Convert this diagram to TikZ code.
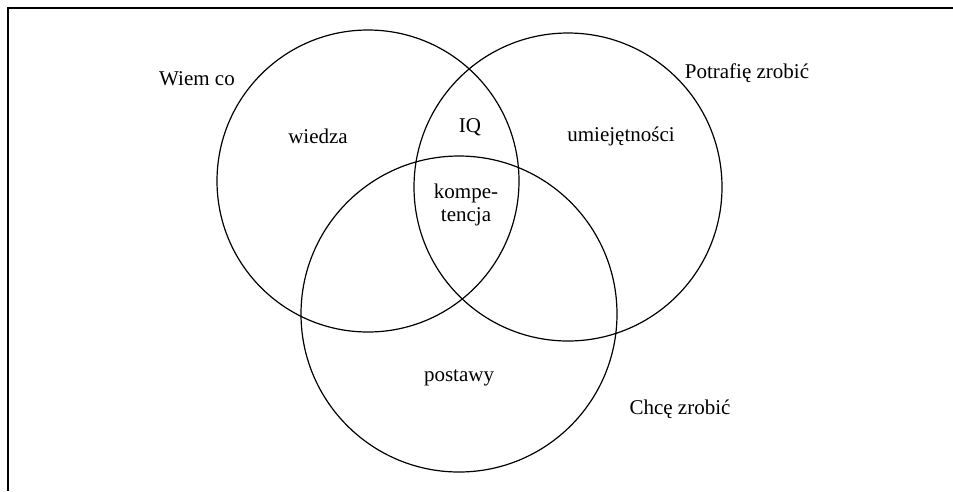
\documentclass[tikz,border=0pt]{standalone}
\usepackage{fontspec}
\setmainfont{Liberation Serif}
\begin{document}
\begin{tikzpicture}[x=1pt,y=-1pt,
  ring/.style={circle, draw, line width=1.2pt, inner sep=0pt},
  lbl/.style={font=\fontsize{21}{23}\selectfont, inner sep=0pt, align=center}]
\useasboundingbox (0,0) rectangle (953,491);
% open frame: top and left edges only
\draw[line width=1.6pt] (953,8) -- (8,8) -- (8,491);
% the three overlapping sets
\node[ring, minimum size=302pt] (know) at (368,181) {};
\node[ring, minimum size=308pt] (skill) at (568,187) {};
\node[ring, minimum size=316pt] (will) at (459,314) {};
% set captions
\node[lbl] (wiem) at (197,79) {Wiem co};
\node[lbl] (potrafie) at (747,73) {Potrafię zrobić};
\node[lbl] (chce) at (680,409) {Chcę zrobić};
% region labels
\node[lbl] (wiedza) at (318,136) {wiedza};
\node[lbl] (iq) at (470,127) {IQ};
\node[lbl] (umiej) at (621,136) {umiejętności};
\node[lbl] (komp) at (466,205) {kompe-\\tencja};
\node[lbl] (postawy) at (459,378) {postawy};
\end{tikzpicture}
\end{document}
